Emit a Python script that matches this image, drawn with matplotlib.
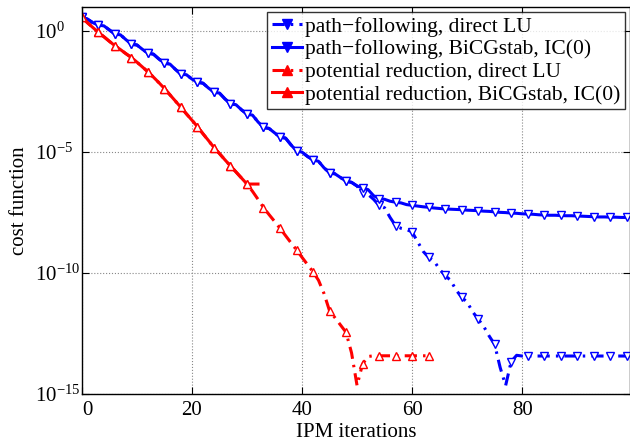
import numpy as np
import matplotlib.pyplot as plt
from matplotlib.lines import Line2D
from matplotlib.ticker import FixedLocator, NullLocator

plt.rcParams['font.family'] = ['Liberation Serif', 'DejaVu Serif']
plt.rcParams['mathtext.fontset'] = 'stix'

# log10 of the cost function (one value per iteration)
pf_bicg_log = [0.58, 0.50, 0.35, 0.25, 0.22, 0.05, -0.12, -0.15, -0.35, -0.54,
               -0.57, -0.75, -0.91, -0.95, -1.15, -1.32, -1.36, -1.58, -1.78, -1.80,
               -1.98, -2.11, -2.15, -2.35, -2.52, -2.56, -2.80, -3.00, -3.04, -3.25,
               -3.43, -3.47, -3.75, -3.98, -4.02, -4.20, -4.38, -4.42, -4.70, -4.95,
               -5.00, -5.18, -5.32, -5.38, -5.65, -5.85, -5.90, -6.05, -6.20, -6.25,
               -6.40, -6.48, -6.55, -6.80, -6.92, -6.95, -7.03, -7.07, -7.10, -7.17,
               -7.20, -7.23, -7.26, -7.28, -7.31, -7.33, -7.35, -7.36, -7.37, -7.38,
               -7.40, -7.41, -7.42, -7.44, -7.45, -7.47, -7.49, -7.50, -7.52, -7.53,
               -7.55, -7.56, -7.57, -7.59, -7.60, -7.61, -7.61, -7.62, -7.63, -7.63,
               -7.64, -7.65, -7.66, -7.67, -7.68, -7.68, -7.69, -7.69, -7.70, -7.70]

pf_lu_log = pf_bicg_log[:51] + [
               -6.70, -6.75, -6.95, -7.20, -7.30, -7.70, -8.04, -8.15, -8.20,
               -8.30, -8.70, -9.10, -9.35, -9.50, -9.85, -10.10, -10.30, -10.70, -11.00,
               -11.20, -11.60, -11.90, -12.20, -12.60, -12.95, -13.90, -14.65, -13.66, -13.40,
               -13.43, -13.43, -13.43, -13.43, -13.43, -13.43, -13.43, -13.43, -13.43, -13.43,
               -13.43, -13.43, -13.43, -13.43, -13.43, -13.43, -13.43, -13.43, -13.43, -13.43]

pr_bicg_log = [0.58, 0.35, 0.15, -0.05, -0.23, -0.42, -0.60, -0.76, -0.93, -1.09,
               -1.28, -1.48, -1.68, -1.90, -2.13, -2.37, -2.63, -2.89, -3.15, -3.42,
               -3.68, -3.95, -4.24, -4.52, -4.81, -5.06, -5.32, -5.57, -5.82, -6.07,
               -6.32, -6.32, -6.32]

pr_lu_log = pr_bicg_log[:31] + [
               -6.62, -6.95, -7.29, -7.58, -7.86, -8.15, -8.45, -8.75, -9.04,
               -9.35, -9.65, -9.95, -10.30, -10.85, -11.56, -11.85, -12.15, -12.45, -13.30,
               -14.65, -13.76, -13.45, -13.42, -13.42, -13.42, -13.42, -13.42, -13.42, -13.42,
               -13.42, -13.42, -13.42, -13.42]

labels = ['path\u2212following, direct LU',
          'path\u2212following, BiCGstab, IC(0)',
          'potential reduction, direct LU',
          'potential reduction, BiCGstab, IC(0)']

blue = '#0000ff'
red = '#ff0000'
dashdot = (0, (4, 2, 0.8, 2))

fig = plt.figure(figsize=(6.3, 4.46), dpi=100)
ax = fig.add_axes([0.130, 0.1166, 0.870, 0.8677])

series = [(pf_lu_log, blue, 'v', dashdot),
          (pf_bicg_log, blue, 'v', '-'),
          (pr_lu_log, red, '^', dashdot),
          (pr_bicg_log, red, '^', '-')]

handles = []
for (vals, c, m, ls), lab in zip(series, labels):
    y = 10.0 ** np.array(vals)
    x = np.arange(len(vals))
    ax.semilogy(x, y, color=c, ls=ls, lw=2.2, marker=m, markevery=3,
                ms=6, mfc='white', mec=c, mew=1.0)
    handles.append(Line2D([], [], color=c, ls=ls, lw=2.2, marker=m,
                          ms=7, mfc=c, mec=c))

ax.set_xlim(0, 99.6)
ax.set_ylim(1e-15, 1e1)
ax.xaxis.set_major_locator(FixedLocator([0, 20, 40, 60, 80]))
ax.yaxis.set_major_locator(FixedLocator([1e-15, 1e-10, 1e-5, 1e0]))
ax.yaxis.set_minor_locator(NullLocator())
ax.grid(True, ls=':', color='#888888', lw=0.8)
ax.tick_params(direction='in', top=True, right=True, labelsize=15, length=5)
ax.tick_params(axis='x', pad=5)
# matlab style: exponents left aligned at the same x
ax.tick_params(axis='y', pad=34)
for t in ax.get_yticklabels():
    t.set_horizontalalignment('left')
# the "0" sits just right of the corner, clear of 10^-15
ax.get_xticklabels()[0].set_horizontalalignment('left')
for s in ax.spines.values():
    s.set_linewidth(1.0)

ax.set_xlabel('IPM iterations', fontsize=15, labelpad=2)
ax.set_ylabel('cost function', fontsize=15, labelpad=4)

leg = ax.legend(handles, labels, loc='upper right', fontsize=15.5,
                frameon=True, fancybox=False, edgecolor='black',
                borderaxespad=0.25, handlelength=1.4, handletextpad=0.15,
                borderpad=0.2, labelspacing=0.12)
leg.get_frame().set_linewidth(1.0)

fig.savefig('out.png', dpi=100)
